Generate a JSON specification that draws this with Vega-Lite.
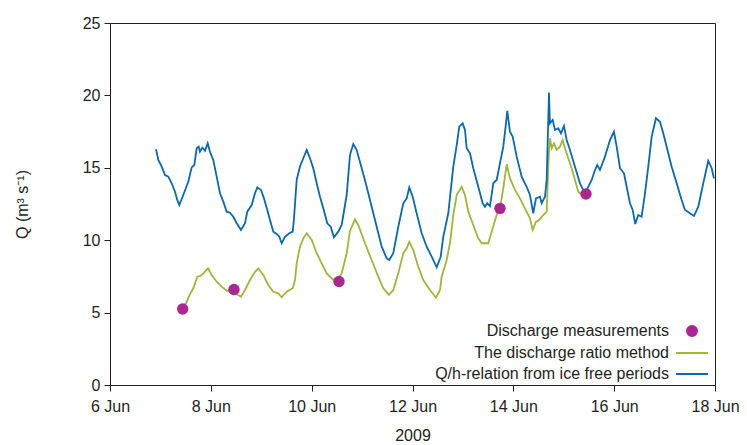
{
  "$schema": "https://vega.github.io/schema/vega-lite/v6.json",
  "width": 605,
  "height": 362,
  "autosize": {"type": "none"},
  "padding": {"left": 110, "top": 23, "right": 32, "bottom": 60},
  "background": "white",
  "config": {
    "font": "Liberation Sans",
    "view": {"stroke": "#231f20", "strokeWidth": 1},
    "axis": {
      "grid": false,
      "domainColor": "#231f20",
      "tickColor": "#231f20",
      "labelColor": "#231f20",
      "titleColor": "#231f20",
      "labelFontSize": 16,
      "titleFontSize": 16,
      "titleFontWeight": "normal",
      "tickSize": 6,
      "labelPadding": 4
    },
    "legend": {
      "labelFontSize": 16,
      "labelColor": "#231f20"
    }
  },
  "datasets": {
    "qh": [
      {"t": "2009-06-06T21:54", "Q": 16.28}, {"t": "2009-06-06T23:00", "Q": 15.54}, {"t": "2009-06-07T00:37", "Q": 15.08},
      {"t": "2009-06-07T02:11", "Q": 14.50}, {"t": "2009-06-07T03:45", "Q": 14.39}, {"t": "2009-06-07T05:22", "Q": 13.93},
      {"t": "2009-06-07T06:56", "Q": 13.35}, {"t": "2009-06-07T08:02", "Q": 12.78}, {"t": "2009-06-07T08:59", "Q": 12.43},
      {"t": "2009-06-07T10:53", "Q": 13.12}, {"t": "2009-06-07T13:16", "Q": 14.04}, {"t": "2009-06-07T14:53", "Q": 15.03},
      {"t": "2009-06-07T16:08", "Q": 15.19}, {"t": "2009-06-07T17:16", "Q": 16.35}, {"t": "2009-06-07T18:13", "Q": 16.46},
      {"t": "2009-06-07T18:50", "Q": 16.11}, {"t": "2009-06-07T19:56", "Q": 16.39}, {"t": "2009-06-07T21:13", "Q": 16.18},
      {"t": "2009-06-07T22:30", "Q": 16.69}, {"t": "2009-06-07T23:36", "Q": 16.11}, {"t": "2009-06-08T01:10", "Q": 15.54},
      {"t": "2009-06-08T02:47", "Q": 14.39}, {"t": "2009-06-08T04:22", "Q": 13.24}, {"t": "2009-06-08T05:56", "Q": 12.66},
      {"t": "2009-06-08T07:33", "Q": 11.97}, {"t": "2009-06-08T09:07", "Q": 11.90}, {"t": "2009-06-08T10:41", "Q": 11.62},
      {"t": "2009-06-08T12:19", "Q": 11.17}, {"t": "2009-06-08T14:21", "Q": 10.70}, {"t": "2009-06-08T16:16", "Q": 11.17},
      {"t": "2009-06-08T17:21", "Q": 11.97}, {"t": "2009-06-08T19:27", "Q": 12.43}, {"t": "2009-06-08T21:01", "Q": 13.24},
      {"t": "2009-06-08T22:07", "Q": 13.65}, {"t": "2009-06-08T23:53", "Q": 13.47}, {"t": "2009-06-09T01:18", "Q": 12.89},
      {"t": "2009-06-09T02:52", "Q": 12.09}, {"t": "2009-06-09T04:10", "Q": 11.40}, {"t": "2009-06-09T05:44", "Q": 10.59},
      {"t": "2009-06-09T07:21", "Q": 10.43}, {"t": "2009-06-09T08:35", "Q": 10.24}, {"t": "2009-06-09T09:44", "Q": 9.79},
      {"t": "2009-06-09T11:18", "Q": 10.24}, {"t": "2009-06-09T13:21", "Q": 10.48}, {"t": "2009-06-09T14:58", "Q": 10.59},
      {"t": "2009-06-09T15:35", "Q": 11.51}, {"t": "2009-06-09T16:52", "Q": 14.16}, {"t": "2009-06-09T18:26", "Q": 15.08},
      {"t": "2009-06-09T20:01", "Q": 15.66}, {"t": "2009-06-09T21:38", "Q": 16.23}, {"t": "2009-06-09T23:12", "Q": 15.66},
      {"t": "2009-06-10T00:46", "Q": 14.97}, {"t": "2009-06-10T02:23", "Q": 13.93}, {"t": "2009-06-10T03:58", "Q": 13.00},
      {"t": "2009-06-10T05:32", "Q": 12.20}, {"t": "2009-06-10T07:26", "Q": 11.17}, {"t": "2009-06-10T09:03", "Q": 10.93},
      {"t": "2009-06-10T10:37", "Q": 10.20}, {"t": "2009-06-10T12:40", "Q": 10.59}, {"t": "2009-06-10T14:17", "Q": 11.05},
      {"t": "2009-06-10T16:40", "Q": 13.12}, {"t": "2009-06-10T18:14", "Q": 15.88}, {"t": "2009-06-10T19:49", "Q": 16.64},
      {"t": "2009-06-10T21:26", "Q": 16.23}, {"t": "2009-06-10T23:49", "Q": 14.97}, {"t": "2009-06-11T02:11", "Q": 13.69},
      {"t": "2009-06-11T04:34", "Q": 12.31}, {"t": "2009-06-11T06:57", "Q": 10.93}, {"t": "2009-06-11T09:20", "Q": 9.55},
      {"t": "2009-06-11T11:43", "Q": 8.75}, {"t": "2009-06-11T12:57", "Q": 8.63}, {"t": "2009-06-11T14:51", "Q": 9.10},
      {"t": "2009-06-11T17:14", "Q": 10.93}, {"t": "2009-06-11T19:37", "Q": 12.55}, {"t": "2009-06-11T21:14", "Q": 12.89},
      {"t": "2009-06-11T22:28", "Q": 13.65}, {"t": "2009-06-12T00:05", "Q": 13.00}, {"t": "2009-06-12T01:59", "Q": 11.86},
      {"t": "2009-06-12T04:22", "Q": 10.48}, {"t": "2009-06-12T06:45", "Q": 9.55}, {"t": "2009-06-12T09:08", "Q": 8.86},
      {"t": "2009-06-12T11:31", "Q": 8.13}, {"t": "2009-06-12T13:25", "Q": 8.86}, {"t": "2009-06-12T14:39", "Q": 10.24},
      {"t": "2009-06-12T17:02", "Q": 11.86}, {"t": "2009-06-12T19:25", "Q": 15.08}, {"t": "2009-06-12T21:02", "Q": 16.57},
      {"t": "2009-06-12T22:16", "Q": 17.84}, {"t": "2009-06-12T23:53", "Q": 18.07}, {"t": "2009-06-13T00:59", "Q": 17.61},
      {"t": "2009-06-13T01:47", "Q": 16.35}, {"t": "2009-06-13T03:22", "Q": 16.00}, {"t": "2009-06-13T04:56", "Q": 14.97},
      {"t": "2009-06-13T07:19", "Q": 13.69}, {"t": "2009-06-13T09:25", "Q": 12.55}, {"t": "2009-06-13T10:30", "Q": 12.31},
      {"t": "2009-06-13T11:35", "Q": 12.55}, {"t": "2009-06-13T12:53", "Q": 12.36}, {"t": "2009-06-13T14:27", "Q": 13.93},
      {"t": "2009-06-13T16:04", "Q": 14.16}, {"t": "2009-06-13T17:38", "Q": 15.31}, {"t": "2009-06-13T19:13", "Q": 16.46},
      {"t": "2009-06-13T20:30", "Q": 18.07}, {"t": "2009-06-13T21:07", "Q": 18.94}, {"t": "2009-06-13T22:24", "Q": 17.49},
      {"t": "2009-06-13T23:41", "Q": 17.15}, {"t": "2009-06-14T01:35", "Q": 15.77}, {"t": "2009-06-14T03:58", "Q": 14.39},
      {"t": "2009-06-14T06:21", "Q": 13.69}, {"t": "2009-06-14T07:55", "Q": 13.12}, {"t": "2009-06-14T09:29", "Q": 11.86},
      {"t": "2009-06-14T10:47", "Q": 12.89}, {"t": "2009-06-14T12:41", "Q": 13.00}, {"t": "2009-06-14T13:29", "Q": 12.55},
      {"t": "2009-06-14T15:04", "Q": 13.00}, {"t": "2009-06-14T15:52", "Q": 14.16}, {"t": "2009-06-14T16:58", "Q": 20.19},
      {"t": "2009-06-14T17:26", "Q": 18.07}, {"t": "2009-06-14T18:44", "Q": 18.30}, {"t": "2009-06-14T19:49", "Q": 17.61},
      {"t": "2009-06-14T21:23", "Q": 17.73}, {"t": "2009-06-14T22:41", "Q": 17.38}, {"t": "2009-06-15T00:06", "Q": 17.89},
      {"t": "2009-06-15T01:23", "Q": 16.92}, {"t": "2009-06-15T02:58", "Q": 16.23}, {"t": "2009-06-15T05:20", "Q": 15.08},
      {"t": "2009-06-15T07:43", "Q": 13.93}, {"t": "2009-06-15T10:06", "Q": 13.24}, {"t": "2009-06-15T13:17", "Q": 14.16},
      {"t": "2009-06-15T14:52", "Q": 14.85}, {"t": "2009-06-15T15:57", "Q": 15.19}, {"t": "2009-06-15T17:14", "Q": 14.85},
      {"t": "2009-06-15T19:37", "Q": 15.77}, {"t": "2009-06-15T22:00", "Q": 16.92}, {"t": "2009-06-15T23:54", "Q": 17.49},
      {"t": "2009-06-16T01:11", "Q": 16.46}, {"t": "2009-06-16T02:46", "Q": 14.97}, {"t": "2009-06-16T04:40", "Q": 14.62},
      {"t": "2009-06-16T05:57", "Q": 13.69}, {"t": "2009-06-16T07:31", "Q": 12.55}, {"t": "2009-06-16T08:49", "Q": 12.09},
      {"t": "2009-06-16T10:02", "Q": 11.12}, {"t": "2009-06-16T11:28", "Q": 11.74}, {"t": "2009-06-16T13:05", "Q": 11.62},
      {"t": "2009-06-16T14:40", "Q": 13.24}, {"t": "2009-06-16T16:14", "Q": 15.08}, {"t": "2009-06-16T17:51", "Q": 17.15},
      {"t": "2009-06-16T19:54", "Q": 18.42}, {"t": "2009-06-16T21:48", "Q": 18.18}, {"t": "2009-06-16T23:22", "Q": 17.38},
      {"t": "2009-06-17T00:59", "Q": 16.46}, {"t": "2009-06-17T03:22", "Q": 15.08}, {"t": "2009-06-17T05:45", "Q": 13.93},
      {"t": "2009-06-17T08:08", "Q": 12.78}, {"t": "2009-06-17T09:42", "Q": 12.09}, {"t": "2009-06-17T12:05", "Q": 11.86},
      {"t": "2009-06-17T13:59", "Q": 11.67}, {"t": "2009-06-17T16:02", "Q": 12.31}, {"t": "2009-06-17T18:25", "Q": 13.93},
      {"t": "2009-06-17T20:47", "Q": 15.49}, {"t": "2009-06-17T22:25", "Q": 14.97}, {"t": "2009-06-17T23:30", "Q": 14.27}
    ],
    "ratio": [
      {"t": "2009-06-07T11:13", "Q": 5.52}, {"t": "2009-06-07T12:11", "Q": 5.64}, {"t": "2009-06-07T14:05", "Q": 6.28},
      {"t": "2009-06-07T15:39", "Q": 6.68}, {"t": "2009-06-07T17:33", "Q": 7.48}, {"t": "2009-06-07T19:10", "Q": 7.53},
      {"t": "2009-06-07T20:45", "Q": 7.76}, {"t": "2009-06-07T22:39", "Q": 8.06}, {"t": "2009-06-08T00:25", "Q": 7.60},
      {"t": "2009-06-08T02:47", "Q": 7.13}, {"t": "2009-06-08T05:10", "Q": 6.79}, {"t": "2009-06-08T07:33", "Q": 6.51},
      {"t": "2009-06-08T10:04", "Q": 6.49}, {"t": "2009-06-08T14:21", "Q": 6.10}, {"t": "2009-06-08T16:16", "Q": 6.56},
      {"t": "2009-06-08T18:38", "Q": 7.25}, {"t": "2009-06-08T21:01", "Q": 7.82}, {"t": "2009-06-08T22:35", "Q": 8.06},
      {"t": "2009-06-09T00:58", "Q": 7.60}, {"t": "2009-06-09T03:21", "Q": 6.91}, {"t": "2009-06-09T05:44", "Q": 6.44},
      {"t": "2009-06-09T08:07", "Q": 6.33}, {"t": "2009-06-09T09:44", "Q": 6.06}, {"t": "2009-06-09T12:07", "Q": 6.44},
      {"t": "2009-06-09T14:58", "Q": 6.68}, {"t": "2009-06-09T16:04", "Q": 7.25}, {"t": "2009-06-09T16:52", "Q": 8.40},
      {"t": "2009-06-09T18:26", "Q": 9.55}, {"t": "2009-06-09T20:01", "Q": 10.13}, {"t": "2009-06-09T21:38", "Q": 10.48},
      {"t": "2009-06-10T00:01", "Q": 10.01}, {"t": "2009-06-10T02:23", "Q": 9.10}, {"t": "2009-06-10T04:46", "Q": 8.40},
      {"t": "2009-06-10T07:09", "Q": 7.71}, {"t": "2009-06-10T09:32", "Q": 7.37}, {"t": "2009-06-10T11:35", "Q": 7.11},
      {"t": "2009-06-10T14:17", "Q": 7.71}, {"t": "2009-06-10T16:40", "Q": 9.10}, {"t": "2009-06-10T18:14", "Q": 10.64},
      {"t": "2009-06-10T20:37", "Q": 11.44}, {"t": "2009-06-10T22:11", "Q": 11.05}, {"t": "2009-06-11T01:23", "Q": 9.79},
      {"t": "2009-06-11T04:34", "Q": 8.63}, {"t": "2009-06-11T07:43", "Q": 7.48}, {"t": "2009-06-11T10:05", "Q": 6.68},
      {"t": "2009-06-11T12:48", "Q": 6.22}, {"t": "2009-06-11T14:51", "Q": 6.56}, {"t": "2009-06-11T17:14", "Q": 7.71},
      {"t": "2009-06-11T19:37", "Q": 9.10}, {"t": "2009-06-11T21:14", "Q": 9.44}, {"t": "2009-06-11T22:28", "Q": 9.90},
      {"t": "2009-06-12T00:22", "Q": 9.32}, {"t": "2009-06-12T02:45", "Q": 8.17}, {"t": "2009-06-12T05:08", "Q": 7.25},
      {"t": "2009-06-12T08:19", "Q": 6.56}, {"t": "2009-06-12T11:11", "Q": 6.03}, {"t": "2009-06-12T13:05", "Q": 6.56},
      {"t": "2009-06-12T13:53", "Q": 7.48}, {"t": "2009-06-12T16:16", "Q": 8.63}, {"t": "2009-06-12T17:50", "Q": 9.79},
      {"t": "2009-06-12T19:25", "Q": 11.74}, {"t": "2009-06-12T21:02", "Q": 13.12}, {"t": "2009-06-12T23:25", "Q": 13.69},
      {"t": "2009-06-13T00:59", "Q": 13.12}, {"t": "2009-06-13T02:33", "Q": 11.97}, {"t": "2009-06-13T04:56", "Q": 11.05},
      {"t": "2009-06-13T07:19", "Q": 10.13}, {"t": "2009-06-13T08:56", "Q": 9.79}, {"t": "2009-06-13T12:04", "Q": 9.79},
      {"t": "2009-06-13T13:41", "Q": 10.59}, {"t": "2009-06-13T16:13", "Q": 11.81}, {"t": "2009-06-13T17:38", "Q": 12.20},
      {"t": "2009-06-13T19:13", "Q": 13.58}, {"t": "2009-06-13T20:50", "Q": 15.24}, {"t": "2009-06-13T22:24", "Q": 14.27},
      {"t": "2009-06-14T00:47", "Q": 13.47}, {"t": "2009-06-14T03:10", "Q": 12.89}, {"t": "2009-06-14T05:32", "Q": 12.20},
      {"t": "2009-06-14T07:55", "Q": 11.51}, {"t": "2009-06-14T09:13", "Q": 10.70}, {"t": "2009-06-14T10:47", "Q": 11.28},
      {"t": "2009-06-14T12:21", "Q": 11.40}, {"t": "2009-06-14T14:15", "Q": 11.74}, {"t": "2009-06-14T15:52", "Q": 11.97},
      {"t": "2009-06-14T16:58", "Q": 16.11}, {"t": "2009-06-14T17:26", "Q": 17.04}, {"t": "2009-06-14T18:15", "Q": 16.35},
      {"t": "2009-06-14T19:21", "Q": 16.69}, {"t": "2009-06-14T20:38", "Q": 16.23}, {"t": "2009-06-14T22:12", "Q": 16.46},
      {"t": "2009-06-14T23:29", "Q": 16.92}, {"t": "2009-06-15T00:35", "Q": 16.35}, {"t": "2009-06-15T02:09", "Q": 15.66},
      {"t": "2009-06-15T03:46", "Q": 14.97}, {"t": "2009-06-15T05:20", "Q": 14.16}, {"t": "2009-06-15T06:55", "Q": 13.35},
      {"t": "2009-06-15T08:12", "Q": 13.19}
    ],
    "meas": [
      {"t": "2009-06-07T10:36", "Q": 5.25},
      {"t": "2009-06-08T11:01", "Q": 6.60},
      {"t": "2009-06-10T13:00", "Q": 7.15},
      {"t": "2009-06-13T17:38", "Q": 12.20},
      {"t": "2009-06-15T10:35", "Q": 13.19}
    ]
  },
  "encoding": {
    "x": {
      "field": "t",
      "type": "temporal",
      "scale": {"domain": [{"year": 2009, "month": "jun", "date": 6}, {"year": 2009, "month": "jun", "date": 18}], "nice": false},
      "axis": {
        "title": "2009",
        "format": "%-d %b",
        "values": [
          {"year": 2009, "month": "jun", "date": 6},
          {"year": 2009, "month": "jun", "date": 8},
          {"year": 2009, "month": "jun", "date": 10},
          {"year": 2009, "month": "jun", "date": 12},
          {"year": 2009, "month": "jun", "date": 14},
          {"year": 2009, "month": "jun", "date": 16},
          {"year": 2009, "month": "jun", "date": 18}
        ],
        "labelFlush": false,
        "labelOverlap": false,
        "labelPadding": 7,
        "titlePadding": 13
      }
    },
    "y": {
      "field": "Q",
      "type": "quantitative",
      "scale": {"domain": [0, 25], "nice": false},
      "axis": {
        "title": "Q (m³ s⁻¹)",
        "values": [0, 5, 10, 15, 20, 25],
        "titlePadding": 52
      }
    }
  },
  "layer": [
    {
      "data": {"name": "ratio"},
      "mark": {"type": "line", "strokeWidth": 1.8},
      "encoding": {
        "color": {
          "datum": "The discharge ratio method",
          "type": "nominal",
          "scale": {
            "domain": ["Discharge measurements", "The discharge ratio method", "Q/h-relation from ice free periods"],
            "range": ["#ac2590", "#a0b63a", "#0b68b2"]
          },
          "legend": {
            "title": null,
            "orient": "bottom-right",
            "offset": 3,
            "symbolSize": 100,
            "symbolStrokeWidth": 2,
            "labelAlign": "right",
            "labelOffset": -31,
            "labelLimit": 0,
            "rowPadding": 5,
            "labelFontSize": 16,
            "encode": {
              "symbols": {
                "update": {
                  "shape": {"signal": "datum.value === 'Discharge measurements' ? 'circle' : 'M-3.2,0H3.2'"},
                  "size": {"value": 100},
                  "fill": {"signal": "datum.value === 'Discharge measurements' ? '#ac2590' : 'transparent'"},
                  "stroke": {"signal": "datum.value === 'Discharge measurements' ? 'transparent' : (datum.value === 'The discharge ratio method' ? '#a0b63a' : '#0b68b2')"},
                  "strokeWidth": {"value": 2},
                  "opacity": {"value": 1}
                }
              }
            }
          }
        }
      }
    },
    {
      "data": {"name": "qh"},
      "mark": {"type": "line", "strokeWidth": 1.8},
      "encoding": {
        "color": {"datum": "Q/h-relation from ice free periods", "type": "nominal"}
      }
    },
    {
      "data": {"name": "meas"},
      "mark": {"type": "point", "filled": true, "size": 130, "opacity": 1},
      "encoding": {
        "color": {"datum": "Discharge measurements", "type": "nominal"}
      }
    }
  ]
}
